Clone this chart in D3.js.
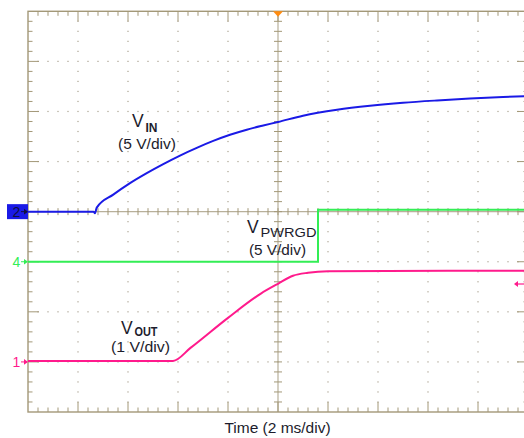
<!DOCTYPE html>
<html><head><meta charset="utf-8">
<script src="https://cdn.jsdelivr.net/npm/d3@7"></script>
<style>
html,body{margin:0;padding:0;background:#fff;}
svg{display:block;}
text{font-family:"Liberation Sans",Arial,sans-serif;}
</style></head>
<body>
<svg id="c" width="524" height="438"></svg>
<script>
// ---- data ----
const vinTime = [0, 2.62, 2.68, 2.75, 3.41, 4.08, 4.75, 5.41, 6.08, 6.75, 7.41, 8.08, 8.75, 9.41, 10, 11, 12.36, 13.68, 15, 16.36, 17.68, 19, 20];
const vinVolts = [0, 0, -0.15, 0.4, 1.7, 2.85, 3.85, 4.75, 5.6, 6.37, 7.06, 7.67, 8.18, 8.6, 8.95, 9.58, 10.17, 10.57, 10.87, 11.1, 11.29, 11.44, 11.54];
const pgTime = [0, 11.6, 11.6, 20];
const pgVolts = [0, 0, 5.2, 5.2];
const voutTime = [0, 5.8, 6.5, 8.0, 9.3, 10, 10.6, 11.2, 12, 20];
const voutVolts = [0.02, 0.02, 0.28, 0.88, 1.36, 1.56, 1.72, 1.78, 1.81, 1.82];
const channels = ["VIN", "VPWRGD", "VOUT"];
const channelNumbers = ["2", "4", "1"];
const voltsPerDiv = [5, 5, 1];
const groundDiv = [0, -1, -3];
const xTickDivs = d3.range(0, 11);
const yTickDivs = d3.range(-4, 5);

const L = 28, R = 528, T = 11.3, B = 412;
const x = d3.scaleLinear().domain([0, 20]).range([L, R]);
const y = d3.scaleLinear().domain([-4, 4]).range([B, T]);
const svg = d3.select("#c");
const tan = "#a39878", dotC = "#aaa290";

// dotted grid
const g = svg.append("g");
const divW = (R - L) / 10, divH = (B - T) / 8;
xTickDivs.forEach(d => {
  if (d === 0 || d === 5 || d === 10) return;
  const xx = L + d * divW;
  for (let k = 1; k < 40; k++) {
    if (k % 5 === 0) continue;
    g.append("rect").attr("x", xx - 0.6).attr("y", T + k * divH / 5 - 0.6).attr("width", 1.2).attr("height", 1.2).attr("fill", dotC);
  }
});
yTickDivs.forEach(d => {
  if (d === -4 || d === 0 || d === 4) return;
  const yy = y(d);
  for (let k = 1; k < 50; k++) {
    g.append("rect").attr("x", L + k * divW / 5 - 0.6).attr("y", yy - 0.6).attr("width", 1.2).attr("height", 1.2).attr("fill", dotC);
  }
});

// center axes
const cx = x(10), cy = y(0);
g.append("line").attr("x1", cx).attr("x2", cx).attr("y1", T).attr("y2", B).attr("stroke", "#b8b09a").attr("stroke-width", 1.2);
g.append("line").attr("x1", L).attr("x2", R).attr("y1", cy).attr("y2", cy).attr("stroke", "#b8b09a").attr("stroke-width", 1.2);
for (let k = 1; k < 50; k++) {
  const xx = L + k * divW / 5;
  g.append("line").attr("x1", xx).attr("x2", xx).attr("y1", cy - 3.5).attr("y2", cy + 3.5).attr("stroke", tan).attr("stroke-width", 1);
  const len = (k % 5 === 0) ? 10 : 4.5;
  g.append("line").attr("x1", xx).attr("x2", xx).attr("y1", T).attr("y2", T + len).attr("stroke", tan).attr("stroke-width", 1);
  g.append("line").attr("x1", xx).attr("x2", xx).attr("y1", B).attr("y2", B - len).attr("stroke", tan).attr("stroke-width", 1);
}
for (let k = 1; k < 40; k++) {
  const yy = T + k * divH / 5;
  g.append("line").attr("x1", cx - 4).attr("x2", cx + 4).attr("y1", yy).attr("y2", yy).attr("stroke", tan).attr("stroke-width", 1);
  const len = (k % 5 === 0) ? 11 : 4.5;
  g.append("line").attr("x1", L).attr("x2", L + len).attr("y1", yy).attr("y2", yy).attr("stroke", tan).attr("stroke-width", 1);
  g.append("line").attr("x1", R).attr("x2", R - len).attr("y1", yy).attr("y2", yy).attr("stroke", tan).attr("stroke-width", 1);
}
g.append("rect").attr("x", L).attr("y", T).attr("width", R - L).attr("height", B - T).attr("fill", "none").attr("stroke", tan).attr("stroke-width", 1.4);

// traces
const colors = ["#1a1ae6", "#33ee55", "#ff1a8c"];
function toY(ci, v) { return y(groundDiv[ci] + v / voltsPerDiv[ci]); }
const series = [[vinTime, vinVolts], [pgTime, pgVolts], [voutTime, voutVolts]];
const curves = [d3.curveMonotoneX, d3.curveLinear, d3.curveMonotoneX];
series.forEach((s, ci) => {
  const pts = s[0].map((t, i) => [t, s[1][i]]);
  const line = d3.line().x(d => x(d[0])).y(d => toY(ci, d[1])).curve(curves[ci]);
  svg.append("path").attr("d", line(pts)).attr("fill", "none").attr("stroke", colors[ci]).attr("stroke-width", 2);
});

// trigger marker
svg.append("path").attr("d", `M${cx - 5},${T} L${cx + 5},${T} L${cx},${T + 5.5} Z`).attr("fill", "#ff8c10");

// left channel markers
svg.append("rect").attr("x", 7).attr("y", toY(0, 0) - 7.5).attr("width", 21).attr("height", 15).attr("fill", "#1a1ae6");
channels.forEach((c, ci) => {
  const yy = toY(ci, 0);
  const col = ci === 0 ? "#101040" : colors[ci];
  svg.append("text").attr("x", 12.5).attr("y", yy + 5).attr("font-family", "'Liberation Serif',serif").attr("font-size", 14).attr("fill", col).text(channelNumbers[ci]);
  svg.append("line").attr("x1", 21).attr("x2", 27).attr("y1", yy).attr("y2", yy).attr("stroke", col).attr("stroke-width", 1);
  svg.append("path").attr("d", `M28,${yy} L24,${yy - 2.8} L24,${yy + 2.8} Z`).attr("fill", col);
});
// right VOUT reference marker
const ry = 284;
svg.append("line").attr("x1", 517).attr("x2", 524).attr("y1", ry).attr("y2", ry).attr("stroke", colors[2]).attr("stroke-width", 1.2);
svg.append("path").attr("d", `M514,${ry} L518,${ry - 3} L518,${ry + 3} Z`).attr("fill", colors[2]);

// labels
const txt = "#1c1c2c";
function label(vx, vy, sub, subLen, subDy, bold, lx, ly, line2, l2len) {
  svg.append("text").attr("x", vx).attr("y", vy).attr("fill", txt).attr("font-size", 17.5).text("V");
  svg.append("text").attr("x", vx + 13.5).attr("y", vy + subDy).attr("fill", txt).attr("font-size", 12.5)
    .attr("font-weight", bold ? "bold" : "normal").attr("textLength", subLen).attr("lengthAdjust", "spacingAndGlyphs").text(sub);
  svg.append("text").attr("x", lx).attr("y", ly).attr("fill", txt).attr("font-size", 15.5)
    .attr("textLength", l2len).attr("lengthAdjust", "spacingAndGlyphs").text(line2);
}
label(132, 127, "IN", 12, 5, true, 118, 149, "(5 V/div)", 58);
label(247, 233, "PWRGD", 56, 4, false, 249, 255, "(5 V/div)", 57);
label(121, 334, "OUT", 23, 2, true, 111, 352, "(1 V/div)", 59);

svg.append("text").attr("x", 277.5).attr("y", 433).attr("text-anchor", "middle").attr("fill", txt).attr("font-size", 15.5).text("Time (2 ms/div)");
</script>
</body></html>
